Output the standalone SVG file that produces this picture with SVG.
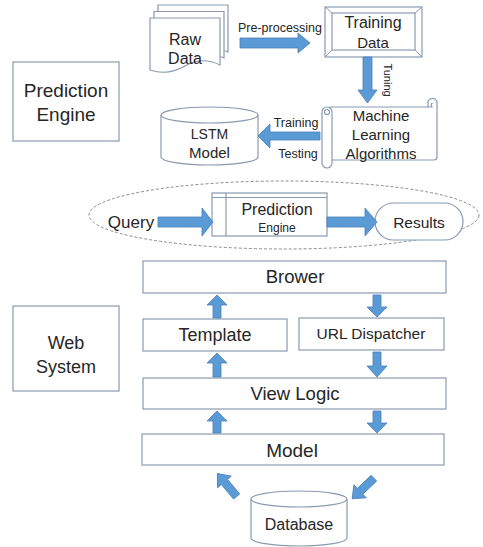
<svg xmlns="http://www.w3.org/2000/svg" width="483" height="547" viewBox="0 0 483 547">
<style>
text{font-family:"Liberation Sans",Arial,sans-serif;fill:#262626;text-anchor:middle}
.box{fill:#fff;stroke:#8a9ab0;stroke-width:1.2}
.arr{fill:#5b9bd5;stroke:#4a7ebb;stroke-width:0.8}
</style>
<rect width="483" height="547" fill="#fff"/>

<g id="label-prediction">
<rect class="box" x="13" y="62" width="106" height="79"/>
<text x="66" y="97" font-size="19">Prediction</text>
<text x="66" y="121" font-size="19">Engine</text>
</g>
<g id="label-web">
<rect class="box" x="13" y="306" width="106" height="85"/>
<text x="66" y="349" font-size="18">Web</text>
<text x="66" y="373" font-size="18">System</text>
</g>

<g id="raw-data">
<path class="box" d="M158,5 H228 V52 Q210,44 193,53 T158,57 Z"/>
<path class="box" d="M154,11.5 H224 V58 Q206,50 189,59 T154,63 Z"/>
<path class="box" d="M150,18 H220 V65 Q202,56 185,66 T150,70 Z"/>
<text x="185" y="45" font-size="16">Raw</text>
<text x="185" y="64" font-size="16">Data</text>
</g>

<g id="training-data">
<rect class="box" x="325" y="7" width="97" height="50"/>
<rect class="box" x="332" y="13" width="83" height="37"/>
<path d="M325,7 L332,13 M422,7 L415,13 M325,57 L332,50 M422,57 L415,50" stroke="#8a9ab0" stroke-width="1"/>
<text x="373" y="28" font-size="16">Training</text>
<text x="373" y="48" font-size="15">Data</text>
</g>

<g id="ml-algorithms">
<path class="box" d="M330,107 H428 V103 A4.5,4.5 0 0 1 437,103 V157 A3,3 0 0 1 434,160 H330 Z"/>
<path class="box" d="M432.5,107 H428 M428,103 A4.5,4.5 0 0 1 437,103 M432.5,107 A2.2,2.2 0 0 1 432.5,103" fill="none"/>
<rect class="box" x="322" y="107" width="10" height="61" rx="5"/>
<circle class="box" cx="327" cy="112" r="2.5"/>
<text x="381" y="121" font-size="15">Machine</text>
<text x="381" y="140" font-size="15">Learning</text>
<text x="381" y="159" font-size="15">Algorithms</text>
</g>

<g id="lstm-model">
<path class="box" d="M161,115 A48.5,8 0 0 1 258,115 V157 A48.5,8 0 0 1 161,157 Z"/>
<path d="M161,115 A48.5,8 0 0 0 258,115" fill="none" stroke="#8a9ab0" stroke-width="1.2"/>
<text x="209.5" y="139" font-size="14">LSTM</text>
<text x="209.5" y="158" font-size="15">Model</text>
</g>

<g id="engine-region">
<ellipse cx="284" cy="215" rx="195" ry="34" fill="none" stroke="#8c8c8c" stroke-width="1" stroke-dasharray="3,2"/>
</g>
<g id="query"><text x="131" y="228" font-size="17">Query</text></g>
<g id="prediction-engine">
<rect class="box" x="212" y="193" width="115" height="43"/>
<path d="M212,197.5 H327 M226,193 V236" stroke="#8a9ab0" stroke-width="1.2"/>
<text x="277" y="215" font-size="16">Prediction</text>
<text x="277" y="232" font-size="12">Engine</text>
</g>
<g id="results">
<rect class="box" x="375" y="203" width="88" height="37" rx="18.5"/>
<text x="419" y="228" font-size="15.5">Results</text>
</g>

<g id="brower">
<rect class="box" x="143" y="261" width="303" height="32"/>
<text x="295" y="283" font-size="18.5">Brower</text>
</g>
<g id="template">
<rect class="box" x="143" y="319" width="144" height="32"/>
<text x="215" y="341" font-size="18">Template</text>
</g>
<g id="url-dispatcher">
<rect class="box" x="299" y="318" width="145" height="32"/>
<text x="371" y="339" font-size="15.5">URL Dispatcher</text>
</g>
<g id="view-logic">
<rect class="box" x="143" y="378" width="303" height="31"/>
<text x="295" y="400" font-size="18.5">View Logic</text>
</g>
<g id="model">
<rect class="box" x="142" y="434" width="302" height="31"/>
<text x="292" y="457" font-size="19">Model</text>
</g>
<g id="database">
<path class="box" d="M251,499 A48,8 0 0 1 347,499 V538 A48,8 0 0 1 251,538 Z"/>
<path d="M251,499 A48,8 0 0 0 347,499" fill="none" stroke="#8a9ab0" stroke-width="1.2"/>
<text x="299" y="530" font-size="16">Database</text>
</g>

<g id="connectors">
<polygon class="arr" points="240,38 298,38 298,33 310,43 298,53 298,48 240,48"/>
<text x="280" y="32" font-size="12.5">Pre-processing</text>
<polygon class="arr" points="363,57 372,57 372,90 377,90 367.5,103 358,90 363,90"/>
<text transform="translate(384,80) rotate(90)" font-size="11">Tuning</text>
<polygon class="arr" points="320,132 270,132 270,124 258,136 270,148 270,140 320,140"/>
<text x="296" y="127" font-size="12.5">Training</text>
<text x="298" y="158" font-size="12.5">Testing</text>
<polygon class="arr" points="158,217 202,217 202,208 213,222 202,236 202,227 158,227"/>
<polygon class="arr" points="327,217 365,217 365,208 377,222 365,236 365,227 327,227"/>
<polygon class="arr" points="213,318 213,305 207,305 217,295 227,305 221,305 221,318"/>
<polygon class="arr" points="213,377 213,363 207,363 217,353 227,363 221,363 221,377"/>
<polygon class="arr" points="213,433 213,421 207,421 217,411 227,421 221,421 221,433"/>
<polygon class="arr" points="373,295 381,295 381,307 387,307 377,317 367,307 373,307"/>
<polygon class="arr" points="373,352 381,352 381,366 387,366 377,377 367,366 373,366"/>
<polygon class="arr" points="373,411 381,411 381,423 387,423 377,433 367,423 373,423"/>
<polygon class="arr" transform="translate(227,485) rotate(230)" points="-15,-4 4,-4 4,-9 15,0 4,9 4,4 -15,4"/>
<polygon class="arr" transform="translate(363,488.5) rotate(136.5)" points="-15,-4 4,-4 4,-9 15,0 4,9 4,4 -15,4"/>
</g>
</svg>
